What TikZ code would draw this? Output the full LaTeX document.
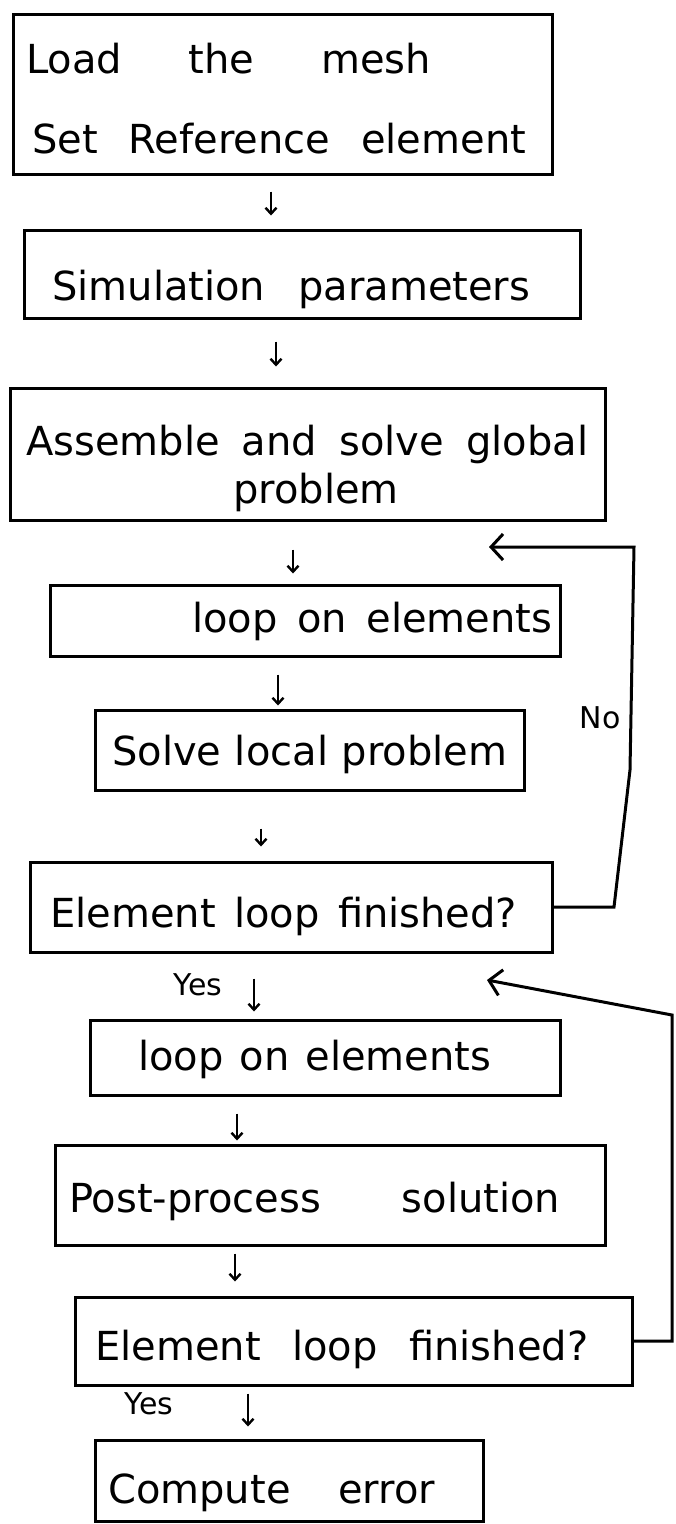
\documentclass[tikz,border=0pt]{standalone}
\usepackage{fontspec}
\setmainfont{DejaVu Sans}
\usetikzlibrary{arrows.meta}
\newcommand\hwfont{\fontsize{40}{48}\selectfont}
\newcommand\ansfont{\fontsize{30}{36}\selectfont}
\newcommand\spreadtext[2]{\makebox[#1][s]{#2}}
\begin{document}
\begin{tikzpicture}[x=1pt,y=-1pt,
  box/.style={draw, line width=3pt, inner sep=0pt, rectangle},
  lbl/.style={font=\hwfont, anchor=base west, inner sep=0pt},
  ans/.style={font=\ansfont, inner sep=0pt},
  arr/.style={line width=2.4pt, -{Straight Barb[length=6pt,width=11pt]}},
  back/.style={line width=3pt, -{Straight Barb[length=12pt,width=26pt]}}]
\useasboundingbox (0,0) rectangle (675,1524);
\fill[white] (0,0) rectangle (675,1524);

% boxes
\node[box, minimum width=539pt, minimum height=160pt] (b1) at (282.5,94) {};
\node[box, minimum width=556pt, minimum height=88pt]  (b2) at (302,274) {};
\node[box, minimum width=595pt, minimum height=132pt] (b3) at (307.5,454) {};
\node[box, minimum width=510pt, minimum height=71pt]  (b4) at (305,620.5) {};
\node[box, minimum width=429pt, minimum height=80pt]  (b5) at (309.5,750) {};
\node[box, minimum width=522pt, minimum height=90pt]  (b6) at (291,907) {};
\node[box, minimum width=470pt, minimum height=75pt]  (b7) at (325,1057.5) {};
\node[box, minimum width=550pt, minimum height=100pt] (b8) at (330,1195) {};
\node[box, minimum width=557pt, minimum height=88pt]  (b9) at (353.5,1341) {};
\node[box, minimum width=388pt, minimum height=81pt]  (b10) at (289,1480.5) {};

% texts
\node[lbl] (t1a) at (26,73) {\spreadtext{405pt}{Load the mesh}};
\node[lbl] (t1b) at (32,153) {\spreadtext{494pt}{Set Reference element}};
\node[lbl] (t2) at (52,300) {\spreadtext{478pt}{Simulation parameters}};
\node[lbl] (t3a) at (26,455) {\spreadtext{562pt}{Assemble and solve global}};
\node[lbl, anchor=base] (t3b) at (316,503) {problem};
\node[lbl] (t4) at (192,632) {\spreadtext{360pt}{loop on elements}};
\node[lbl] (t5) at (112,765) {\spreadtext{395pt}{Solve local problem}};
\node[lbl] (t6) at (50,927) {\spreadtext{467pt}{Element loop finished?}};
\node[lbl] (t7) at (138,1070) {\spreadtext{353pt}{loop on elements}};
\node[lbl] (t8) at (69,1212) {\spreadtext{491pt}{Post-process solution}};
\node[lbl] (t9) at (95,1360) {\spreadtext{493pt}{Element loop finished?}};
\node[lbl] (t10) at (108,1503) {\spreadtext{327pt}{Compute error}};

% answer labels
\node[ans] (no) at (600,718) {No};
\node[ans] (yes1) at (198,985) {Yes};
\node[ans] (yes2) at (149,1404) {Yes};

% arrow x positions
\coordinate (x1) at (271,0);
\coordinate (x2) at (276,0);
\coordinate (x3) at (293,0);
\coordinate (x4) at (278,0);
\coordinate (x5) at (261,0);
\coordinate (x6) at (254,0);
\coordinate (x7) at (237,0);
\coordinate (x8) at (235,0);
\coordinate (x9) at (248,0);

\draw[arr, shorten <=16pt, shorten >=13pt] (b1.south -| x1) -- (b2.north -| x1);
\draw[arr, shorten <=22pt, shorten >=20pt] (b2.south -| x2) -- (b3.north -| x2);
\draw[arr, shorten <=28pt, shorten >=10pt] (b3.south -| x3) -- (b4.north -| x3);
\draw[arr, shorten <=17pt, shorten >=3pt]  (b4.south -| x4) -- (b5.north -| x4);
\draw[arr, shorten <=37pt, shorten >=14pt] (b5.south -| x5) -- (b6.north -| x5);
\draw[arr, shorten <=25pt, shorten >=7pt]  (b6.south -| x6) -- (b7.north -| x6);
\draw[arr, shorten <=17pt, shorten >=3pt]  (b7.south -| x7) -- (b8.north -| x7);
\draw[arr, shorten <=7pt, shorten >=14pt]  (b8.south -| x8) -- (b9.north -| x8);
\draw[arr, shorten <=7pt, shorten >=12pt]  (b9.south -| x9) -- (b10.north -| x9);

% loop-back connectors
\coordinate (n1) at (614,907);
\coordinate (n2) at (630,770);
\coordinate (n3) at (634,547);
\coordinate (nend) at (489,547);
\draw[back] (b6.east) -- (n1) -- (n2) -- (n3) -- (nend);

\coordinate (m1) at (672,1341);
\coordinate (m2) at (672,1015);
\coordinate (mend) at (487,980);
\draw[back] (b9.east) -- (m1) -- (m2) -- (mend);
\end{tikzpicture}
\end{document}
